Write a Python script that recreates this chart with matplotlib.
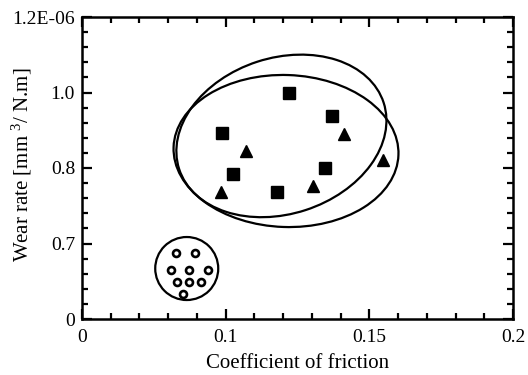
import numpy as np
import matplotlib
matplotlib.use("Agg")
import matplotlib.pyplot as plt
from matplotlib.patches import Ellipse
from matplotlib.transforms import ScaledTranslation
from matplotlib.ticker import FixedLocator, FixedFormatter

plt.rcParams['font.family'] = ['Liberation Serif', 'DejaVu Serif']
plt.rcParams['mathtext.fontset'] = 'custom'
plt.rcParams['mathtext.rm'] = 'Liberation Serif'
plt.rcParams['mathtext.it'] = 'Liberation Serif:italic'

# ---- data ----
x_tick_values = [0, 0.1, 0.15, 0.2]
x_tick_labels = ['0', '0.1', '0.15', '0.2']
y_tick_values = [0, 0.7, 0.8, 1.0, 1.2]
y_tick_labels = ['0', '0.7', '0.8', '1.0', '1.2E-06']

square_cof = [0.0977, 0.1219, 0.1369, 0.1027, 0.1344, 0.1177]
square_wear = [0.893, 0.999, 0.938, 0.792, 0.800, 0.768]

triangle_cof = [0.1072, 0.0970, 0.1303, 0.1411, 0.1547]
triangle_wear = [0.845, 0.768, 0.776, 0.890, 0.821]

dot_cof = [0.0656, 0.0784, 0.0619, 0.0747, 0.0874, 0.0661, 0.0742, 0.0828, 0.0701]
dot_wear = [0.609, 0.609, 0.454, 0.454, 0.454, 0.340, 0.340, 0.340, 0.236]

# ellipses: centre (cof, wear), width px, height px, angle deg
ellipse_centres = [(0.1194, 0.885), (0.1210, 0.845), (0.0729, 0.468)]
ellipse_sizes = [(215, 156, 18), (225, 152, -2), (63, 63, 0)]

# ---- scales (equally spaced, non-linear labels) ----
xpos = np.arange(len(x_tick_values), dtype=float)
ypos = np.arange(len(y_tick_values), dtype=float)

def fx(v):
    return np.interp(v, x_tick_values, xpos)
def ix(p):
    return np.interp(p, xpos, x_tick_values)
def fy(v):
    return np.interp(v, y_tick_values, ypos)
def iy(p):
    return np.interp(p, ypos, y_tick_values)

DPI = 100
fig = plt.figure(figsize=(5.28, 3.75), dpi=DPI)
ax = fig.add_axes([82/528, 1-319/375, (513-82)/528, (319-17)/375])
ax.set_xscale('function', functions=(fx, ix))
ax.set_yscale('function', functions=(fy, iy))
ax.set_xlim(0, 0.2)
ax.set_ylim(0, 1.2)

ax.xaxis.set_major_locator(FixedLocator(x_tick_values))
ax.xaxis.set_major_formatter(FixedFormatter(x_tick_labels))
ax.yaxis.set_major_locator(FixedLocator(y_tick_values))
ax.yaxis.set_major_formatter(FixedFormatter(y_tick_labels))
ax.xaxis.set_minor_locator(FixedLocator(ix(np.arange(0, 3.01, 0.2))))
ax.yaxis.set_minor_locator(FixedLocator(iy(np.arange(0, 4.01, 0.2))))

ax.tick_params(which='both', direction='in', top=True, right=True, width=1.6, colors='black')
ax.tick_params(which='major', length=7.5, labelsize=14, pad=5)
ax.tick_params(axis='x', which='major', pad=7)
ax.tick_params(which='minor', length=4.5)
for s in ax.spines.values():
    s.set_linewidth(1.8)

ax.plot(square_cof, square_wear, 's', color='black', markersize=8.5, linestyle='none')
ax.plot(triangle_cof, triangle_wear, '^', color='black', markersize=8.5, linestyle='none')
ax.plot(dot_cof, dot_wear, 'o', markerfacecolor='white', markeredgecolor='black',
        markersize=5, markeredgewidth=1.9, linestyle='none')

for (cx, cy), (w, h, a) in zip(ellipse_centres, ellipse_sizes):
    tr = fig.dpi_scale_trans + ScaledTranslation(cx, cy, ax.transData)
    e = Ellipse((0, 0), w/DPI, h/DPI, angle=a, transform=tr, fill=False,
                edgecolor='black', linewidth=1.6)
    ax.add_patch(e)

ax.set_xlabel('Coefficient of friction', fontsize=15, labelpad=6)
ax.set_ylabel(r'Wear rate [mm $^{3}$/ N.m]', fontsize=15, va='center')
ax.yaxis.set_label_coords(-0.139, 0.512)

fig.savefig('out.png', dpi=DPI)
